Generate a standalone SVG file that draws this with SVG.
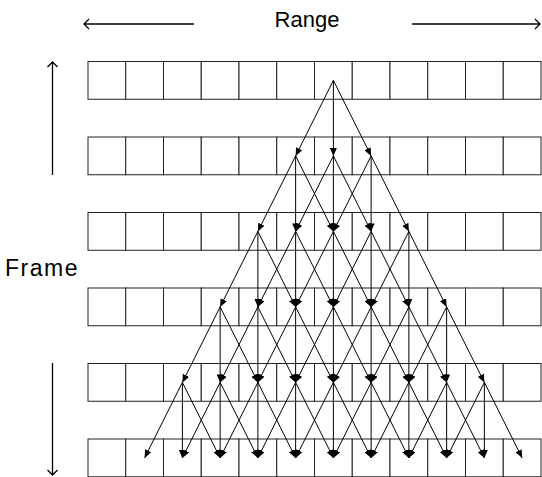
<svg xmlns="http://www.w3.org/2000/svg" width="542" height="477" viewBox="0 0 542 477">
<style>
.c{fill:#fff;stroke:#222;stroke-width:1}
.e{stroke:#000;stroke-width:1;fill:none;marker-end:url(#ah)}
.ax{stroke:#000;stroke-width:1.3;fill:none;marker-end:url(#open)}
.t{font-family:"Liberation Sans",Arial,sans-serif;font-size:22px;fill:#000}
</style>
<defs>
<marker id="ah" viewBox="0 0 8 7" markerWidth="8" markerHeight="7" refX="8" refY="3.5" orient="auto" markerUnits="userSpaceOnUse"><path d="M0,0 L8,3.5 L0,7 z" fill="#000"/></marker>
<marker id="open" viewBox="0 0 7 12" markerWidth="7" markerHeight="12" refX="6" refY="6" orient="auto" markerUnits="userSpaceOnUse"><path d="M1,1 L6,6 L1,11" fill="none" stroke="#000" stroke-width="1.3"/></marker>
</defs>
<g id="labels">
<text class="t" x="307" y="27" text-anchor="middle">Range</text>
<text class="t" x="5" y="276" style="font-size:23px;letter-spacing:1.5px">Frame</text>
<line class="ax" x1="194" y1="24" x2="84" y2="24"/>
<line class="ax" x1="412" y1="24" x2="540" y2="24"/>
<line class="ax" x1="52.5" y1="175" x2="52.5" y2="62"/>
<line class="ax" x1="52.5" y1="363" x2="52.5" y2="475"/>
</g>
<g id="row1"><rect class="c" x="88" y="61.5" width="37.75" height="37.75"/><rect class="c" x="125.75" y="61.5" width="37.75" height="37.75"/><rect class="c" x="163.5" y="61.5" width="37.75" height="37.75"/><rect class="c" x="201.25" y="61.5" width="37.75" height="37.75"/><rect class="c" x="239" y="61.5" width="37.75" height="37.75"/><rect class="c" x="276.75" y="61.5" width="37.75" height="37.75"/><rect class="c" x="314.5" y="61.5" width="37.75" height="37.75"/><rect class="c" x="352.25" y="61.5" width="37.75" height="37.75"/><rect class="c" x="390" y="61.5" width="37.75" height="37.75"/><rect class="c" x="427.75" y="61.5" width="37.75" height="37.75"/><rect class="c" x="465.5" y="61.5" width="37.75" height="37.75"/><rect class="c" x="503.25" y="61.5" width="37.75" height="37.75"/></g>
<g id="row2"><rect class="c" x="88" y="137" width="37.75" height="37.75"/><rect class="c" x="125.75" y="137" width="37.75" height="37.75"/><rect class="c" x="163.5" y="137" width="37.75" height="37.75"/><rect class="c" x="201.25" y="137" width="37.75" height="37.75"/><rect class="c" x="239" y="137" width="37.75" height="37.75"/><rect class="c" x="276.75" y="137" width="37.75" height="37.75"/><rect class="c" x="314.5" y="137" width="37.75" height="37.75"/><rect class="c" x="352.25" y="137" width="37.75" height="37.75"/><rect class="c" x="390" y="137" width="37.75" height="37.75"/><rect class="c" x="427.75" y="137" width="37.75" height="37.75"/><rect class="c" x="465.5" y="137" width="37.75" height="37.75"/><rect class="c" x="503.25" y="137" width="37.75" height="37.75"/></g>
<g id="row3"><rect class="c" x="88" y="212.5" width="37.75" height="37.75"/><rect class="c" x="125.75" y="212.5" width="37.75" height="37.75"/><rect class="c" x="163.5" y="212.5" width="37.75" height="37.75"/><rect class="c" x="201.25" y="212.5" width="37.75" height="37.75"/><rect class="c" x="239" y="212.5" width="37.75" height="37.75"/><rect class="c" x="276.75" y="212.5" width="37.75" height="37.75"/><rect class="c" x="314.5" y="212.5" width="37.75" height="37.75"/><rect class="c" x="352.25" y="212.5" width="37.75" height="37.75"/><rect class="c" x="390" y="212.5" width="37.75" height="37.75"/><rect class="c" x="427.75" y="212.5" width="37.75" height="37.75"/><rect class="c" x="465.5" y="212.5" width="37.75" height="37.75"/><rect class="c" x="503.25" y="212.5" width="37.75" height="37.75"/></g>
<g id="row4"><rect class="c" x="88" y="288" width="37.75" height="37.75"/><rect class="c" x="125.75" y="288" width="37.75" height="37.75"/><rect class="c" x="163.5" y="288" width="37.75" height="37.75"/><rect class="c" x="201.25" y="288" width="37.75" height="37.75"/><rect class="c" x="239" y="288" width="37.75" height="37.75"/><rect class="c" x="276.75" y="288" width="37.75" height="37.75"/><rect class="c" x="314.5" y="288" width="37.75" height="37.75"/><rect class="c" x="352.25" y="288" width="37.75" height="37.75"/><rect class="c" x="390" y="288" width="37.75" height="37.75"/><rect class="c" x="427.75" y="288" width="37.75" height="37.75"/><rect class="c" x="465.5" y="288" width="37.75" height="37.75"/><rect class="c" x="503.25" y="288" width="37.75" height="37.75"/></g>
<g id="row5"><rect class="c" x="88" y="363.5" width="37.75" height="37.75"/><rect class="c" x="125.75" y="363.5" width="37.75" height="37.75"/><rect class="c" x="163.5" y="363.5" width="37.75" height="37.75"/><rect class="c" x="201.25" y="363.5" width="37.75" height="37.75"/><rect class="c" x="239" y="363.5" width="37.75" height="37.75"/><rect class="c" x="276.75" y="363.5" width="37.75" height="37.75"/><rect class="c" x="314.5" y="363.5" width="37.75" height="37.75"/><rect class="c" x="352.25" y="363.5" width="37.75" height="37.75"/><rect class="c" x="390" y="363.5" width="37.75" height="37.75"/><rect class="c" x="427.75" y="363.5" width="37.75" height="37.75"/><rect class="c" x="465.5" y="363.5" width="37.75" height="37.75"/><rect class="c" x="503.25" y="363.5" width="37.75" height="37.75"/></g>
<g id="row6"><rect class="c" x="88" y="439" width="37.75" height="37.75"/><rect class="c" x="125.75" y="439" width="37.75" height="37.75"/><rect class="c" x="163.5" y="439" width="37.75" height="37.75"/><rect class="c" x="201.25" y="439" width="37.75" height="37.75"/><rect class="c" x="239" y="439" width="37.75" height="37.75"/><rect class="c" x="276.75" y="439" width="37.75" height="37.75"/><rect class="c" x="314.5" y="439" width="37.75" height="37.75"/><rect class="c" x="352.25" y="439" width="37.75" height="37.75"/><rect class="c" x="390" y="439" width="37.75" height="37.75"/><rect class="c" x="427.75" y="439" width="37.75" height="37.75"/><rect class="c" x="465.5" y="439" width="37.75" height="37.75"/><rect class="c" x="503.25" y="439" width="37.75" height="37.75"/></g>
<g id="connectors">
<line class="e" x1="333.38" y1="80.4" x2="295.63" y2="155.9"/><line class="e" x1="333.38" y1="80.4" x2="333.38" y2="155.9"/><line class="e" x1="333.38" y1="80.4" x2="371.13" y2="155.9"/>
<line class="e" x1="295.63" y1="155.9" x2="257.88" y2="231.4"/><line class="e" x1="295.63" y1="155.9" x2="295.63" y2="231.4"/><line class="e" x1="295.63" y1="155.9" x2="333.38" y2="231.4"/>
<line class="e" x1="333.38" y1="155.9" x2="295.63" y2="231.4"/><line class="e" x1="333.38" y1="155.9" x2="333.38" y2="231.4"/><line class="e" x1="333.38" y1="155.9" x2="371.13" y2="231.4"/>
<line class="e" x1="371.13" y1="155.9" x2="333.38" y2="231.4"/><line class="e" x1="371.13" y1="155.9" x2="371.13" y2="231.4"/><line class="e" x1="371.13" y1="155.9" x2="408.88" y2="231.4"/>
<line class="e" x1="257.88" y1="231.4" x2="220.13" y2="306.9"/><line class="e" x1="257.88" y1="231.4" x2="257.88" y2="306.9"/><line class="e" x1="257.88" y1="231.4" x2="295.63" y2="306.9"/>
<line class="e" x1="295.63" y1="231.4" x2="257.88" y2="306.9"/><line class="e" x1="295.63" y1="231.4" x2="295.63" y2="306.9"/><line class="e" x1="295.63" y1="231.4" x2="333.38" y2="306.9"/>
<line class="e" x1="333.38" y1="231.4" x2="295.63" y2="306.9"/><line class="e" x1="333.38" y1="231.4" x2="333.38" y2="306.9"/><line class="e" x1="333.38" y1="231.4" x2="371.13" y2="306.9"/>
<line class="e" x1="371.13" y1="231.4" x2="333.38" y2="306.9"/><line class="e" x1="371.13" y1="231.4" x2="371.13" y2="306.9"/><line class="e" x1="371.13" y1="231.4" x2="408.88" y2="306.9"/>
<line class="e" x1="408.88" y1="231.4" x2="371.13" y2="306.9"/><line class="e" x1="408.88" y1="231.4" x2="408.88" y2="306.9"/><line class="e" x1="408.88" y1="231.4" x2="446.63" y2="306.9"/>
<line class="e" x1="220.13" y1="306.9" x2="182.38" y2="382.4"/><line class="e" x1="220.13" y1="306.9" x2="220.13" y2="382.4"/><line class="e" x1="220.13" y1="306.9" x2="257.88" y2="382.4"/>
<line class="e" x1="257.88" y1="306.9" x2="220.13" y2="382.4"/><line class="e" x1="257.88" y1="306.9" x2="257.88" y2="382.4"/><line class="e" x1="257.88" y1="306.9" x2="295.63" y2="382.4"/>
<line class="e" x1="295.63" y1="306.9" x2="257.88" y2="382.4"/><line class="e" x1="295.63" y1="306.9" x2="295.63" y2="382.4"/><line class="e" x1="295.63" y1="306.9" x2="333.38" y2="382.4"/>
<line class="e" x1="333.38" y1="306.9" x2="295.63" y2="382.4"/><line class="e" x1="333.38" y1="306.9" x2="333.38" y2="382.4"/><line class="e" x1="333.38" y1="306.9" x2="371.13" y2="382.4"/>
<line class="e" x1="371.13" y1="306.9" x2="333.38" y2="382.4"/><line class="e" x1="371.13" y1="306.9" x2="371.13" y2="382.4"/><line class="e" x1="371.13" y1="306.9" x2="408.88" y2="382.4"/>
<line class="e" x1="408.88" y1="306.9" x2="371.13" y2="382.4"/><line class="e" x1="408.88" y1="306.9" x2="408.88" y2="382.4"/><line class="e" x1="408.88" y1="306.9" x2="446.63" y2="382.4"/>
<line class="e" x1="446.63" y1="306.9" x2="408.88" y2="382.4"/><line class="e" x1="446.63" y1="306.9" x2="446.63" y2="382.4"/><line class="e" x1="446.63" y1="306.9" x2="484.38" y2="382.4"/>
<line class="e" x1="182.38" y1="382.4" x2="144.63" y2="457.9"/><line class="e" x1="182.38" y1="382.4" x2="182.38" y2="457.9"/><line class="e" x1="182.38" y1="382.4" x2="220.13" y2="457.9"/>
<line class="e" x1="220.13" y1="382.4" x2="182.38" y2="457.9"/><line class="e" x1="220.13" y1="382.4" x2="220.13" y2="457.9"/><line class="e" x1="220.13" y1="382.4" x2="257.88" y2="457.9"/>
<line class="e" x1="257.88" y1="382.4" x2="220.13" y2="457.9"/><line class="e" x1="257.88" y1="382.4" x2="257.88" y2="457.9"/><line class="e" x1="257.88" y1="382.4" x2="295.63" y2="457.9"/>
<line class="e" x1="295.63" y1="382.4" x2="257.88" y2="457.9"/><line class="e" x1="295.63" y1="382.4" x2="295.63" y2="457.9"/><line class="e" x1="295.63" y1="382.4" x2="333.38" y2="457.9"/>
<line class="e" x1="333.38" y1="382.4" x2="295.63" y2="457.9"/><line class="e" x1="333.38" y1="382.4" x2="333.38" y2="457.9"/><line class="e" x1="333.38" y1="382.4" x2="371.13" y2="457.9"/>
<line class="e" x1="371.13" y1="382.4" x2="333.38" y2="457.9"/><line class="e" x1="371.13" y1="382.4" x2="371.13" y2="457.9"/><line class="e" x1="371.13" y1="382.4" x2="408.88" y2="457.9"/>
<line class="e" x1="408.88" y1="382.4" x2="371.13" y2="457.9"/><line class="e" x1="408.88" y1="382.4" x2="408.88" y2="457.9"/><line class="e" x1="408.88" y1="382.4" x2="446.63" y2="457.9"/>
<line class="e" x1="446.63" y1="382.4" x2="408.88" y2="457.9"/><line class="e" x1="446.63" y1="382.4" x2="446.63" y2="457.9"/><line class="e" x1="446.63" y1="382.4" x2="484.38" y2="457.9"/>
<line class="e" x1="484.38" y1="382.4" x2="446.63" y2="457.9"/><line class="e" x1="484.38" y1="382.4" x2="522.13" y2="457.9"/><line class="e" x1="484.38" y1="382.4" x2="484.38" y2="457.9"/>
</g>
</svg>
